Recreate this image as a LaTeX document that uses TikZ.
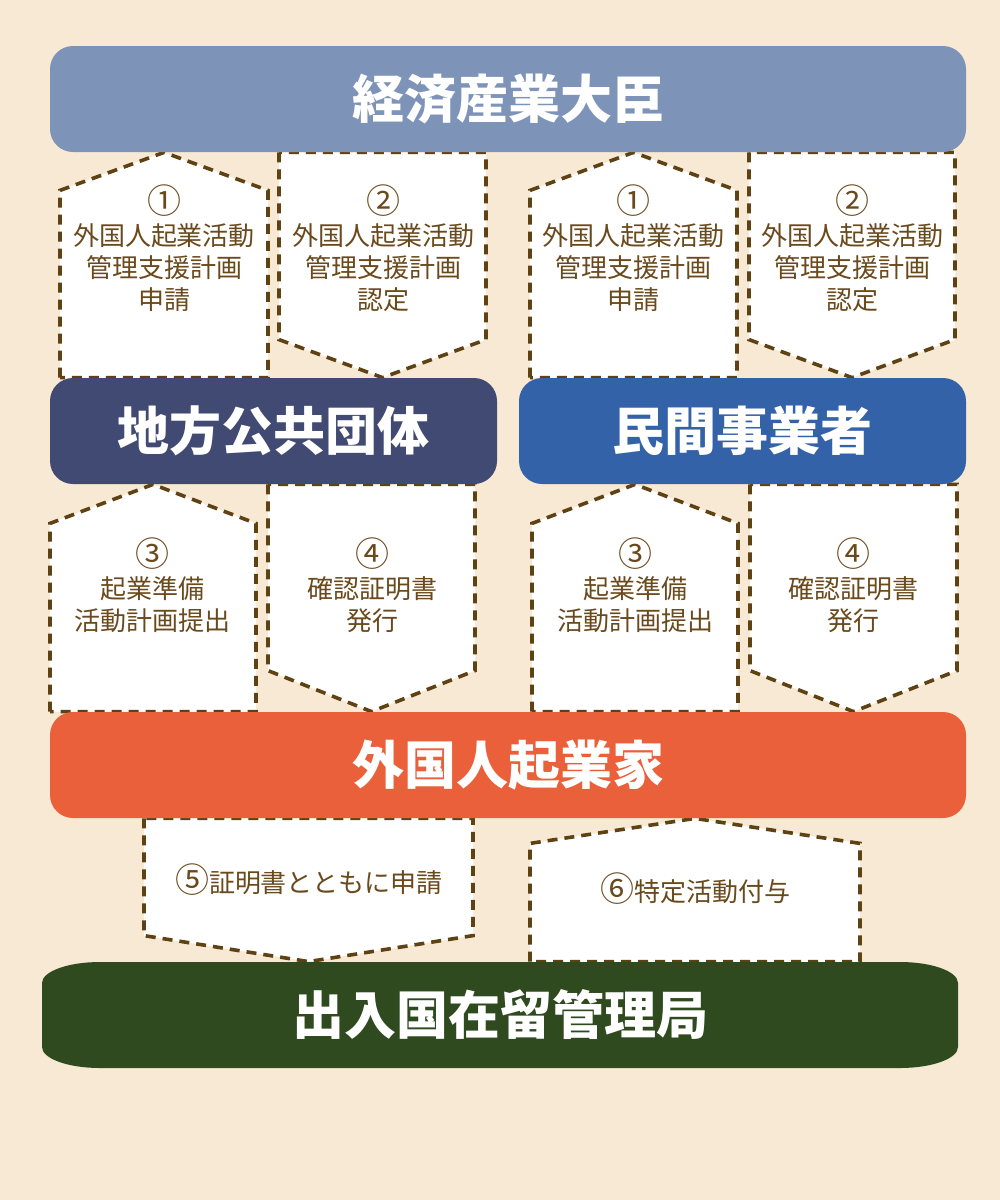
\documentclass[tikz,border=0pt]{standalone}
\usepackage{fontspec}
\setmainfont{Noto Sans CJK JP}
\usetikzlibrary{calc}

\definecolor{paper}{HTML}{F7E9D3}
\definecolor{metiblue}{HTML}{7E93B8}
\definecolor{localnavy}{HTML}{404A72}
\definecolor{privblue}{HTML}{3462A8}
\definecolor{founderred}{HTML}{E9603A}
\definecolor{immiggreen}{HTML}{2F4A1E}
\definecolor{dashbrown}{HTML}{5F4214}
\definecolor{textbrown}{HTML}{6A4A1C}

\pgfdeclarelayer{back}
\pgfsetlayers{back,main}

\tikzset{
  bar/.style={rounded corners=11.5pt, inner sep=0pt, minimum height=53pt, text=white, font=\fontsize{26}{30}\selectfont\bfseries},
  flowbox/.style={draw=dashbrown, fill=white, line width=1.8pt, dash pattern=on 5pt off 3.5pt},
  flowtext/.style={text=textbrown, align=center, font=\fontsize{13}{16}\selectfont}
}

\newcommand{\stepno}[1]{{\fontsize{17}{16}\selectfont #1}}

% #1 left x, #2 right x, #3 upper bar, #4 lower bar, #5 shoulder
\newcommand{\upbox}[5]{%
  \draw[flowbox] (#1,0 |- #4.north) -- ($(#1,0 |- #3.south)+(0,#5)$)
    -- ($(#1,0 |- #3.south)!.5!(#2,0 |- #3.south)$)
    -- ($(#2,0 |- #3.south)+(0,#5)$) -- (#2,0 |- #4.north) -- cycle;}
\newcommand{\downbox}[5]{%
  \draw[flowbox] (#1,0 |- #3.south) -- ($(#1,0 |- #4.north)-(0,#5)$)
    -- ($(#1,0 |- #4.north)!.5!(#2,0 |- #4.north)$)
    -- ($(#2,0 |- #4.north)-(0,#5)$) -- (#2,0 |- #3.south) -- cycle;}

\begin{document}
\begin{tikzpicture}[x=0.5pt, y=-0.5pt]
	\useasboundingbox (0,0) rectangle (1000,1200);

	% bars
	\node[bar, fill=metiblue, minimum width=458pt] (meti) at (508,99) {経済産業大臣};
	\node[bar, fill=localnavy, minimum width=223.5pt] (local) at (273.5,431) {地方公共団体};
	\node[bar, fill=privblue, minimum width=223.5pt] (private) at (742.5,431) {民間事業者};
	\node[bar, fill=founderred, minimum width=458pt] (founder) at (508,765) {外国人起業家};
	\fill[immiggreen] (42,983) arc[start angle=180, end angle=90, x radius=29pt, y radius=10.5pt]
		-- (900,962) arc[start angle=90, end angle=0, x radius=29pt, y radius=10.5pt]
		-- (958,1047) arc[start angle=0, end angle=-90, x radius=29pt, y radius=10.5pt]
		-- (100,1068) arc[start angle=270, end angle=180, x radius=29pt, y radius=10.5pt] -- cycle;
	\node[bar, minimum width=458pt] (immig) at (500,1015) {出入国在留管理局};

	\begin{pgfonlayer}{back}
		\fill[paper] (0,0) rectangle (1000,1200);
		% row 1
		\upbox{60}{268}{meti}{local}{38}
		\downbox{279}{486}{meti}{local}{38}
		\upbox{530}{737}{meti}{private}{38}
		\downbox{749}{955}{meti}{private}{38}
		% row 2
		\upbox{50}{256}{local}{founder}{39}
		\downbox{268}{475}{local}{founder}{41}
		\upbox{532}{738}{private}{founder}{39}
		\downbox{750}{957}{private}{founder}{41}
		% row 3
		\downbox{144}{473}{founder}{immig}{26}
		\upbox{530}{860}{founder}{immig}{25}
	\end{pgfonlayer}

	\node[flowtext] (req1) at (164,248) {\stepno{①}\\外国人起業活動\\管理支援計画\\申請};
	\node[flowtext] (ok1) at (383,248) {\stepno{②}\\外国人起業活動\\管理支援計画\\認定};
	\node[flowtext] (req2) at (633,248) {\stepno{①}\\外国人起業活動\\管理支援計画\\申請};
	\node[flowtext] (ok2) at (852,248) {\stepno{②}\\外国人起業活動\\管理支援計画\\認定};
	\node[flowtext] (plan1) at (153,585) {\stepno{③}\\起業準備\\活動計画提出};
	\node[flowtext] (cert1) at (372,585) {\stepno{④}\\確認証明書\\発行};
	\node[flowtext] (plan2) at (635,585) {\stepno{③}\\起業準備\\活動計画提出};
	\node[flowtext] (cert2) at (853,585) {\stepno{④}\\確認証明書\\発行};
	\node[flowtext] (apply) at (309,880) {\stepno{⑤}証明書とともに申請};
	\node[flowtext] (grant) at (695,889) {\stepno{⑥}特定活動付与};
\end{tikzpicture}
\end{document}
